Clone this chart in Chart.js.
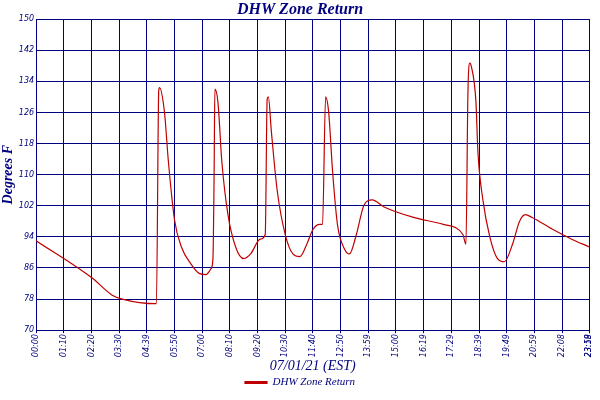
<!DOCTYPE html>
<html>
<head>
<script src="https://cdn.jsdelivr.net/npm/chart.js@4"></script>
<style>
  body { margin: 0; background: #fff; }
  #wrap { width: 600px; height: 400px; }
</style>
</head>
<body>
<div id="wrap"><canvas id="chart"></canvas></div>
<script>
const NAVY = "#000080";
const RED = "#c00000";

// minutes since midnight (axis spans 00:00 to 23:59)
const minutes = [0, 146, 198, 224, 313, 319, 321, 334, 344, 360, 378, 403, 424, 442, 455, 460, 463, 465,
  473, 483, 499, 519, 540, 558, 583, 596, 601, 604, 612, 627, 648, 668, 686, 704, 720, 738, 745,
  753, 761, 771, 784, 802, 815, 833, 853, 874, 905, 982, 1059, 1110, 1118, 1123, 1128, 1131, 1144,
  1149, 1162, 1180, 1200, 1218, 1239, 1257, 1272, 1290, 1342, 1393, 1439];
const temps = [93, 83.4, 79, 78, 76.8, 131.6, 132.4, 126, 113.5, 98.4, 91.4, 87, 84.6, 84.3, 85.8, 88.4, 110, 132,
  128.6, 113.5, 99.7, 91.4, 88.4, 89.6, 93.4, 94.6, 129.4, 130, 121, 106, 94.6, 89.6, 88.9, 92.1, 95.9, 97.2, 97.2,
  130, 126, 111, 97, 90.9, 89.6, 94.6, 102.2, 103.5, 101.7, 99, 97.2, 94.6, 92.1, 130.6, 138.7, 138.2, 128.6,
  116, 103.5, 94, 88.4, 87.6, 92.1, 97.9, 99.7, 99, 96, 93.4, 91.4];

// ticks are evenly spaced in the original; the last two share the right edge
const tickMinutes = [0, 72, 144, 216, 288, 360, 432, 504, 576, 648, 720, 792, 864, 936, 1008, 1080, 1152, 1224, 1296, 1368, 1438, 1439];
const tickLabels = ["00:00", "01:10", "02:20", "03:30", "04:39", "05:50", "07:00", "08:10", "09:20", "10:30", "11:40",
  "12:50", "13:59", "15:00", "16:19", "17:29", "18:39", "19:49", "20:59", "22:08", "23:18", "23:59"];
const yTicks = [70, 78, 86, 94, 102, 110, 118, 126, 134, 142, 150];

new Chart(document.getElementById("chart"), {
  type: "line",
  data: {
    datasets: [{
      label: "DHW Zone Return",
      data: minutes.map((m, i) => ({ x: m, y: temps[i] })),
      borderColor: RED,
      backgroundColor: RED,
      borderWidth: 1.2,
      pointRadius: 0,
      cubicInterpolationMode: "monotone",
    }],
  },
  options: {
    responsive: true,
    maintainAspectRatio: false,
    animation: false,
    layout: { padding: { right: 0, top: 0, bottom: 2 } },
    plugins: {
      title: {
        display: true,
        text: "DHW Zone Return",
        color: NAVY,
        font: { family: "Liberation Serif", size: 16, style: "italic", weight: "bold" },
        padding: { top: 0, bottom: 0 },
      },
      legend: {
        position: "bottom",
        labels: {
          color: NAVY,
          boxWidth: 22,
          boxHeight: 2,
          font: { family: "Liberation Serif", size: 11, style: "italic" },
          padding: 0,
        },
      },
    },
    scales: {
      x: {
        type: "linear",
        min: 0,
        max: 1439,
        afterBuildTicks: (axis) => { axis.ticks = tickMinutes.map((v) => ({ value: v })); },
        ticks: {
          color: NAVY,
          minRotation: 90,
          maxRotation: 90,
          autoSkip: false,
          padding: 1,
          font: { family: "DejaVu Sans", size: 8, style: "italic" },
          callback: (v) => tickLabels[tickMinutes.indexOf(v)],
        },
        grid: { color: NAVY, tickLength: 3 },
        border: { color: NAVY },
        title: {
          display: true,
          text: "07/01/21 (EST)",
          color: NAVY,
          font: { family: "Liberation Serif", size: 14, style: "italic" },
          padding: { top: 0, bottom: 2 },
        },
      },
      y: {
        min: 70,
        max: 150,
        afterBuildTicks: (axis) => { axis.ticks = yTicks.map((v) => ({ value: v })); },
        ticks: {
          color: NAVY,
          font: { family: "DejaVu Sans", size: 8, style: "italic" },
          padding: 2,
        },
        grid: { color: NAVY, tickLength: 0 },
        border: { color: NAVY },
        title: {
          display: true,
          text: "Degrees F",
          color: NAVY,
          font: { family: "Liberation Serif", size: 14, style: "italic", weight: "bold" },
          padding: 0,
        },
      },
    },
  },
});
</script>
</body>
</html>
